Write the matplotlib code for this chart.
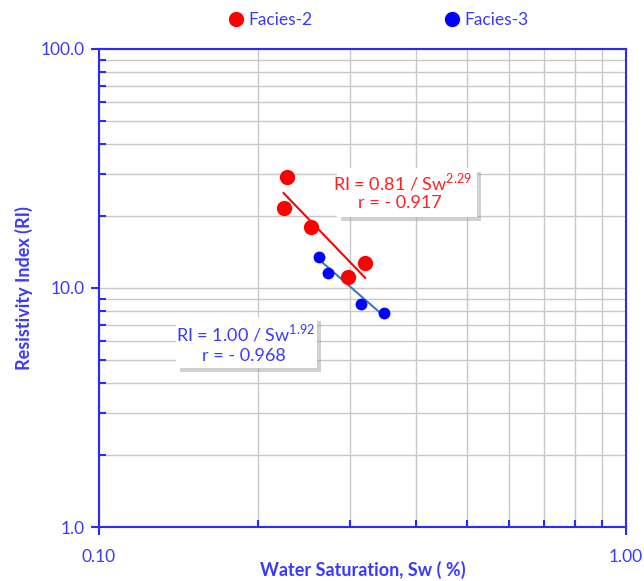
import matplotlib
matplotlib.use("Agg")
import matplotlib.pyplot as plt
import matplotlib.patheffects as pe
from matplotlib.patches import Rectangle
from matplotlib.ticker import LogLocator, FixedLocator, NullFormatter
from matplotlib.lines import Line2D
import numpy as np

plt.rcParams['font.family'] = ['Lato', 'DejaVu Sans']

# Data
facies2_sw = [0.227, 0.224, 0.253, 0.297, 0.320]
facies2_ri = [29.2, 21.5, 17.9, 11.1, 12.65]
facies3_sw = [0.2615, 0.272, 0.314, 0.3475]
facies3_ri = [13.5, 11.5, 8.53, 7.83]

fit2_a, fit2_n = 0.81, 2.29
fit3_a, fit3_n = 1.00, 1.92

xticks_major = [0.1, 1.0]
xtick_labels = ["0.10", "1.00"]
yticks_major = [1, 10, 100]
ytick_labels = ["1.0", "10.0", "100.0"]

BLUE = '#2a2aff'
TXTBLUE = '#3a3aff'

fig = plt.figure(figsize=(6.44, 5.81), dpi=100)
ax = fig.add_axes([99/644, 1-527/581, (626-99)/644, (527-48.7)/581])
ax.set_xscale('log')
ax.set_yscale('log')
ax.set_xlim(0.1, 1.0)
ax.set_ylim(1, 100)

ax.grid(True, which='both', color='#c8c8c8', linewidth=1.0, zorder=0)
ax.set_axisbelow(True)

ax.xaxis.set_major_locator(FixedLocator(xticks_major))
ax.yaxis.set_major_locator(FixedLocator(yticks_major))
ax.xaxis.set_minor_locator(LogLocator(base=10, subs=np.arange(2, 10)))
ax.yaxis.set_minor_locator(LogLocator(base=10, subs=np.arange(2, 10)))
ax.xaxis.set_minor_formatter(NullFormatter())
ax.yaxis.set_minor_formatter(NullFormatter())
ax.set_xticklabels(xtick_labels)
ax.set_yticklabels(ytick_labels)

for s in ax.spines.values():
    s.set_color(BLUE)
    s.set_linewidth(1.5)
ax.tick_params(which='major', direction='out', length=6, width=1.5, color=BLUE,
               labelcolor=TXTBLUE, labelsize=12.5)
ax.tick_params(which='minor', direction='in', length=5, width=1.5, color=BLUE)
ax.tick_params(axis='x', which='major', pad=10)
ax.tick_params(axis='y', which='major', pad=4)

ax.set_xlabel("Water Saturation, Sw ( %)", color=TXTBLUE, fontsize=13, fontweight='bold', labelpad=-3)
ax.set_ylabel("Resistivity Index (RI)", color=TXTBLUE, fontsize=13, fontweight='bold', labelpad=6)

# Trendlines over data range
x2 = np.linspace(min(facies2_sw), max(facies2_sw), 50)
x3 = np.linspace(min(facies3_sw), max(facies3_sw), 50)
ax.plot(x2, fit2_a / x2**fit2_n, color='#ff0000', lw=1.5, zorder=3)
ax.plot(x3, fit3_a / x3**fit3_n, color='#3d7ab8', lw=1.5, zorder=3)

ax.plot(facies2_sw, facies2_ri, 'o', color='#ff0000', ms=11, mec='none', zorder=4)
ax.plot(facies3_sw, facies3_ri, 'o', color='#0000ff', ms=8.5, mec='none', zorder=4)

# annotation boxes (figure pixel coordinates)
def box(x0, y0, x1, y1, lines, color):
    W, H = 644, 581
    r = Rectangle((x0/W, 1-y1/H), (x1-x0)/W, (y1-y0)/H, transform=fig.transFigure,
                  facecolor='white', edgecolor='none', lw=0, zorder=10)
    r.set_path_effects([pe.SimplePatchShadow(offset=(3, -3), shadow_rgbFace='#9a9a9a', alpha=0.45),
                        pe.Normal()])
    fig.patches.append(r)
    for (tx, ty, s) in lines:
        fig.text(tx/W, 1-ty/H, s, color=color, fontsize=13, ha='center', va='center', zorder=11)

box(337, 168, 477, 217,
    [(403, 182, r"RI = 0.81 / Sw$^{\mathregular{2.29}}$"), (400, 203, "r = - 0.917")],
    '#ff2020')
box(176, 317, 317, 368,
    [(246, 333, r"RI = 1.00 / Sw$^{\mathregular{1.92}}$"), (244, 356, "r = - 0.968")],
    '#3a3aff')

handles = [Line2D([], [], marker='o', ls='none', color='#ff0000', ms=10),
           Line2D([], [], marker='o', ls='none', color='#0000ff', ms=10)]
fig.legend(handles, ["Facies-2", "Facies-3"], loc='center', bbox_to_anchor=(380/644, 1-20/581),
           ncol=2, frameon=False, fontsize=12.5, handlelength=0.6, handletextpad=0.4,
           columnspacing=7.75, labelcolor=TXTBLUE)

fig.savefig("out.png", dpi=100)
